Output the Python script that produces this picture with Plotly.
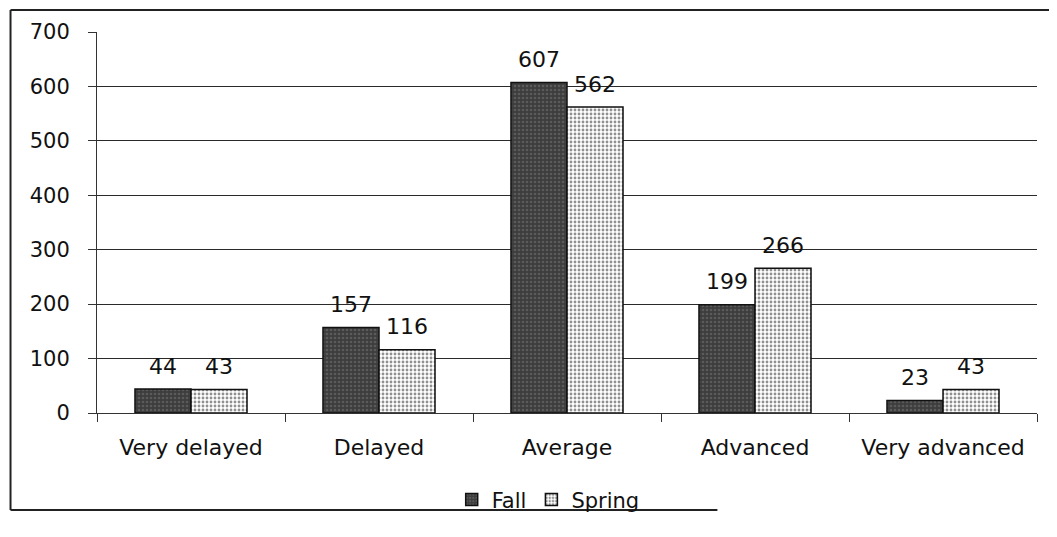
import plotly.graph_objects as go

categories = ["Very delayed", "Delayed", "Average", "Advanced", "Very advanced"]
fall = [44, 157, 607, 199, 23]
spring = [43, 116, 562, 266, 43]
y_ticks = [0, 100, 200, 300, 400, 500, 600, 700]

FONT = "DejaVu Sans"

fig = go.Figure()
fig.add_trace(go.Bar(
    name="Fall", x=categories, y=fall,
    marker=dict(color="#3d3d3d", line=dict(color="#111", width=1.5),
                pattern=dict(shape=".", fgcolor="#7a7a7a", bgcolor="#3d3d3d",
                             size=4, solidity=0.35, fillmode="overlay")),
))
fig.add_trace(go.Bar(
    name="Spring", x=categories, y=spring,
    marker=dict(color="white", line=dict(color="#111", width=1.5),
                pattern=dict(shape=".", fgcolor="#222", bgcolor="white",
                             size=4, solidity=0.4, fillmode="overlay")),
))

for vals, shift in ((fall, -28), (spring, 28)):
    for c, v in zip(categories, vals):
        fig.add_annotation(x=c, y=v, text=str(v), showarrow=False,
                           xshift=shift, yshift=23, yanchor="middle",
                           font=dict(family=FONT, size=22, color="#111"))

# outer frame (left, top, bottom)
FX0, FY0, FY1 = -0.092, -0.2546, 1.0577
fig.add_shape(type="line", xref="paper", yref="paper", x0=FX0, x1=FX0, y0=FY0, y1=FY1,
              line=dict(color="#222", width=2))
fig.add_shape(type="line", xref="paper", yref="paper", x0=FX0, x1=1.03, y0=FY1, y1=FY1,
              line=dict(color="#222", width=2))
fig.add_shape(type="line", xref="paper", yref="paper", x0=FX0, x1=0.66, y0=FY0, y1=FY0,
              line=dict(color="#222", width=2))

fig.update_layout(
    width=1049, height=529,
    margin=dict(l=89, r=20, t=24, b=124),
    paper_bgcolor="white", plot_bgcolor="white",
    barmode="group", bargap=0.404, bargroupgap=0,
    font=dict(family=FONT, size=19, color="#111"),
    showlegend=True,
    legend=dict(orientation="h", x=0.48, xanchor="center", y=-0.228, yanchor="middle",
                font=dict(family=FONT, size=21), itemwidth=30,
                bgcolor="rgba(0,0,0,0)"),
)
fig.update_yaxes(range=[0, 700], tickvals=y_ticks, showgrid=True, gridcolor="#2a2a2a", gridwidth=1,
                 showline=True, linecolor="#333", linewidth=1, ticks="outside", ticklen=8,
                 tickcolor="#333", ticklabelstandoff=14, zeroline=False,
                 tickfont=dict(family=FONT, size=21))
fig.update_xaxes(showline=True, linecolor="#333", linewidth=1, ticks="outside", ticklen=8,
                 tickcolor="#333", tickson="boundaries", ticklabelstandoff=15,
                 tickfont=dict(family=FONT, size=22))

fig.write_html("out.html")
